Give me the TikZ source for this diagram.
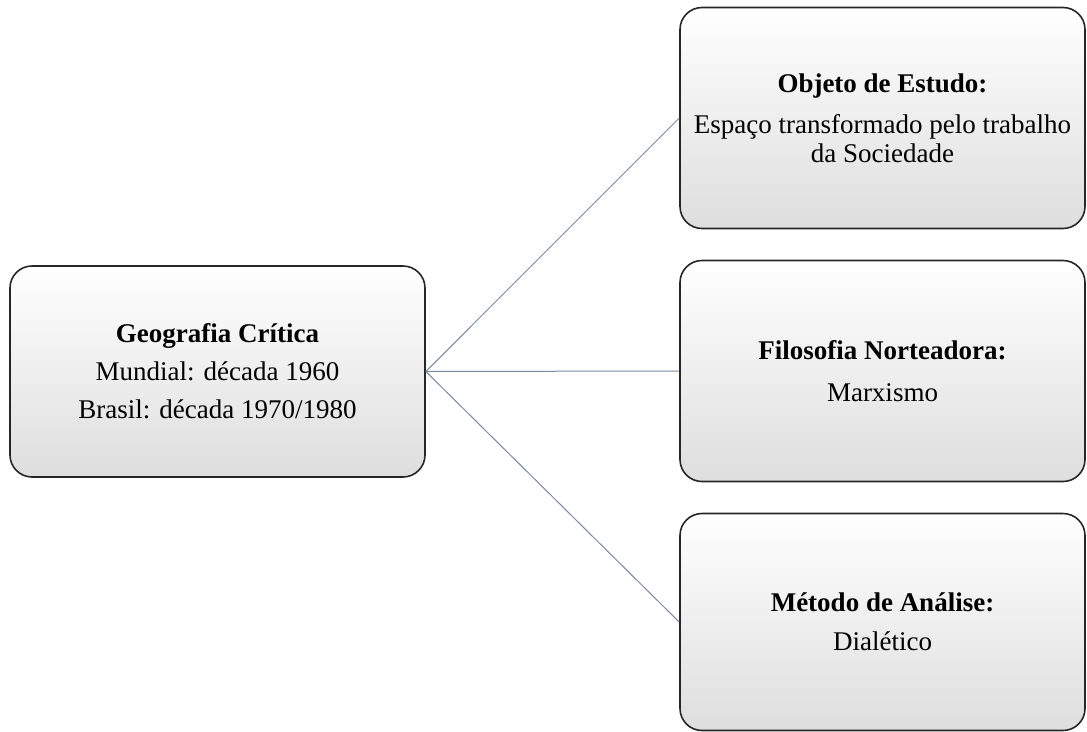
\documentclass[tikz,border=0pt]{standalone}
\usepackage{fontspec}
\setmainfont{Liberation Serif}
\begin{document}
\begin{tikzpicture}[x=1pt,y=-1pt,
  infobox/.style={draw=black!85, line width=1.6pt, rounded corners=22pt,
    top color=white, middle color=white, bottom color=black!13,
    align=center, inner sep=0pt,
    font=\fontsize{27}{29}\selectfont},
  link/.style={draw={rgb,255:red,120;green,136;blue,162}, line width=1pt}]
  \useasboundingbox (0,0) rectangle (1087,731);
  \clip (0,0) rectangle (1087,731);

  % central concept
  \node[infobox, minimum width=415pt, minimum height=211pt] (geo) at (217.5,371.5)
    {\textbf{Geografia Crítica}\\[9pt]Mundial: década 1960\\[9pt]Brasil: década 1970/1980};

  % three aspects on the right
  \node[infobox, minimum width=405pt, minimum height=221pt] (obj) at (882.5,118)
    {\textbf{Objeto de Estudo:}\\[12pt]Espaço transformado pelo trabalho\\da Sociedade};
  \node[infobox, minimum width=405pt, minimum height=221pt] (fil) at (882.5,371)
    {\textbf{Filosofia Norteadora:}\\[13pt]Marxismo};
  \node[infobox, minimum width=405pt, minimum height=217pt] (met) at (882.5,622)
    {\textbf{Método de Análise:}\\[10pt]Dialético};

  % connectors
  \draw[link] (geo.east) -- (obj.west);
  \draw[link] (geo.east) -- (fil.west);
  \draw[link] (geo.east) -- (met.west);
\end{tikzpicture}
\end{document}
